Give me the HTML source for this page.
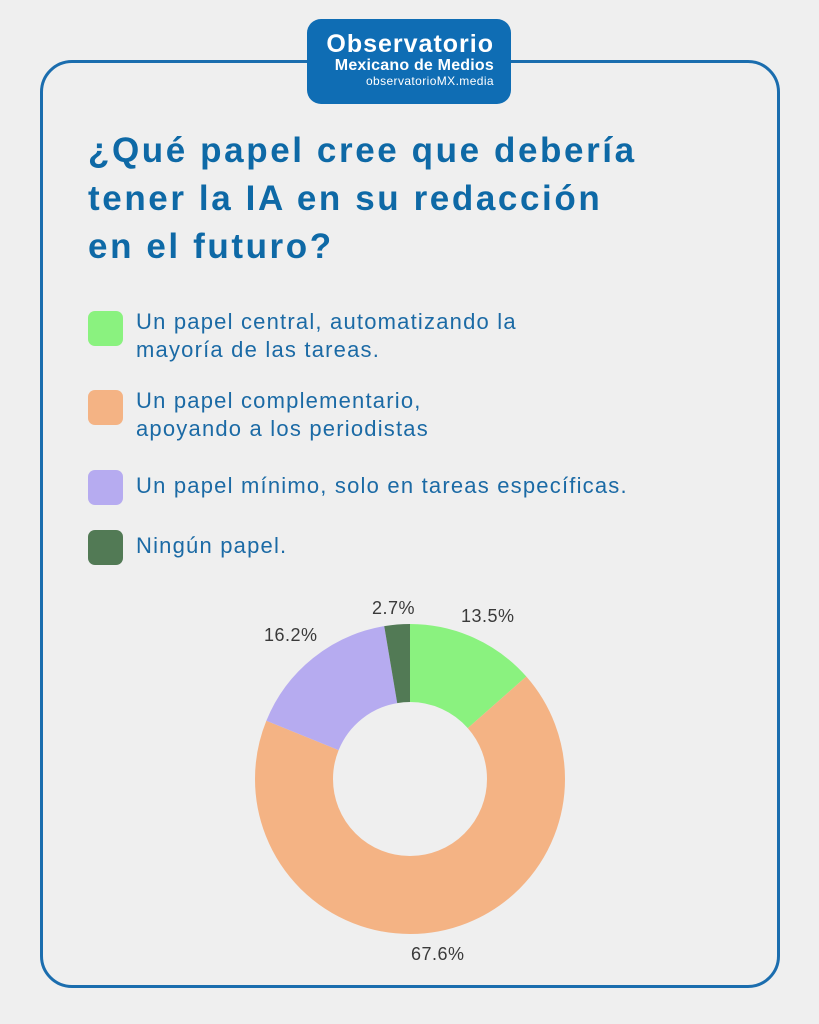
<!DOCTYPE html>
<html><head><meta charset="utf-8"><style>
body{margin:0;width:819px;height:1024px;background:#efefef;font-family:"Liberation Sans",sans-serif;position:relative;overflow:hidden}
.card{position:absolute;left:40px;top:60px;width:734px;height:922px;border:3px solid #1b6dae;border-radius:32px}
.logo{position:absolute;left:307px;top:19px;width:204px;height:85px;background:#0f6db4;border-radius:14px;color:#fff;text-align:right;box-sizing:border-box;padding-right:17px}
.t{position:absolute;left:88px;color:#0e69a6;font-weight:bold;font-size:35px;letter-spacing:2.6px;line-height:48px;top:127px;white-space:nowrap}
.li{position:absolute;left:88px;font-size:22px;letter-spacing:1.2px;color:#1b6aa5;line-height:28px;white-space:nowrap}
.sw{position:absolute;left:0;top:3px;width:35px;height:35px;border-radius:7px}
.li span{display:block;margin-left:48px}
</style></head><body>
<div class="card"></div>
<div class="logo">
<div style="font-weight:bold;font-size:25px;letter-spacing:1px;padding-top:13px;line-height:25px">Observatorio</div>
<div style="font-weight:bold;font-size:16px;letter-spacing:0.2px;line-height:17px">Mexicano de Medios</div>
<div style="font-size:12px;letter-spacing:0.4px;line-height:14px">observatorioMX.media</div>
</div>
<div class="t">¿Qué papel cree que debería<br>tener la IA en su redacción<br>en el futuro?</div>
<div class="li" style="top:308px"><div class="sw" style="background:#8af27f"></div><span>Un papel central, automatizando la<br>mayoría de las tareas.</span></div>
<div class="li" style="top:387px"><div class="sw" style="background:#f4b384"></div><span>Un papel complementario,<br>apoyando a los periodistas</span></div>
<div class="li" style="top:467px"><div class="sw" style="background:#b6abf0"></div><span style="padding-top:5px">Un papel mínimo, solo en tareas específicas.</span></div>
<div class="li" style="top:527px"><div class="sw" style="background:#527a55"></div><span style="padding-top:5px">Ningún papel.</span></div>
<svg width="819" height="1024" style="position:absolute;left:0;top:0">
<g transform="rotate(-90 410 779)" fill="none" stroke-width="78">
<circle cx="410" cy="779" r="116" stroke="#8af27f" stroke-dasharray="98.39 1000"/>
<circle cx="410" cy="779" r="116" stroke="#f4b384" stroke-dasharray="0 98.39 492.7 1000"/>
<circle cx="410" cy="779" r="116" stroke="#b6abf0" stroke-dasharray="0 591.09 118.07 1000"/>
<circle cx="410" cy="779" r="116" stroke="#527a55" stroke-dasharray="0 709.16 19.7 1000"/>
</g>
<g font-size="18" fill="#3a3a3a" font-family="Liberation Sans, sans-serif" letter-spacing="0.5">
<text x="372" y="614">2.7%</text>
<text x="461" y="622">13.5%</text>
<text x="264" y="641">16.2%</text>
<text x="411" y="960">67.6%</text>
</g>
</svg>
</body></html>
